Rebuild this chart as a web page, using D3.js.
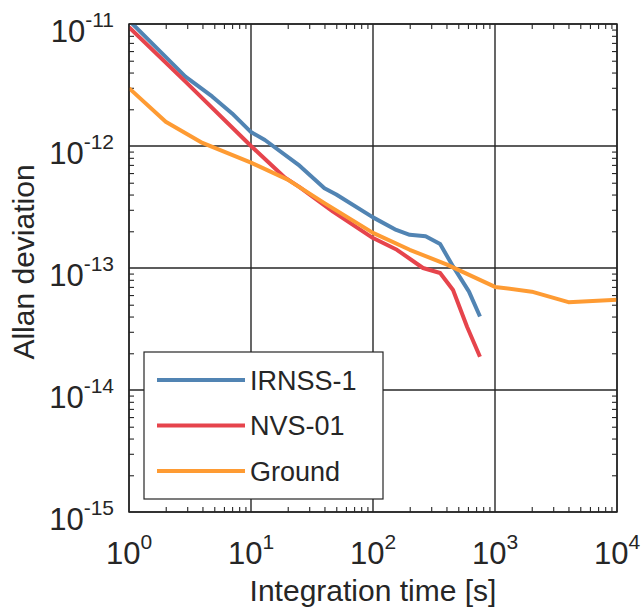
<!DOCTYPE html>
<html>
<head>
<meta charset="utf-8">
<script src="https://cdn.jsdelivr.net/npm/d3@7"></script>
<style>
    body { margin: 0; background: #fff; }
    text { font-family: "Liberation Sans", Arial, sans-serif; fill: #262626; }
</style>
</head>
<body>
<script>
// series (tau in s, Allan deviation)
const irnssTau = [1, 2.9, 4.8, 7, 10, 13, 25, 40, 50, 100, 155, 200, 270, 355, 453, 612, 753];
const irnssDev = [1.07e-11, 3.7e-12, 2.55e-12, 1.85e-12, 1.3e-12, 1.12e-12, 6.9e-13, 4.5e-13, 4.0e-13,
    2.6e-13, 2.05e-13, 1.87e-13, 1.82e-13, 1.57e-13, 1.03e-13, 6.4e-14, 4.0e-14];

const nvsTau = [1, 2.9, 10, 19, 25, 47, 100, 157, 257, 355, 453, 590, 753];
const nvsDev = [9.4e-12, 3.37e-12, 1.0e-12, 5.5e-13, 4.6e-13, 2.9e-13, 1.76e-13, 1.41e-13, 1.0e-13,
    9.1e-14, 6.6e-14, 3.3e-14, 1.87e-14];

const groundTau = [1, 2, 4, 10, 20, 40, 100, 200, 400, 1000, 2000, 4000, 10000];
const groundDev = [2.98e-12, 1.58e-12, 1.06e-12, 7.3e-13, 5.3e-13, 3.4e-13, 1.94e-13, 1.41e-13, 1.07e-13,
    7.0e-14, 6.4e-14, 5.25e-14, 5.5e-14];

const seriesNames = ['IRNSS-1', 'NVS-01', 'Ground'];
const xTickExps = [0, 1, 2, 3, 4];
const yTickExps = [-11, -12, -13, -14, -15];

const colors = ['#5184b3', '#e6444c', '#fe9b33'];
const axisColor = '#262626';

const width = 642;
const height = 610;
const margin = { top: 24, right: 25, bottom: 98, left: 129 };
const plotW = width - margin.left - margin.right;
const plotH = height - margin.top - margin.bottom;

const series = [
    d3.zip(irnssTau, irnssDev),
    d3.zip(nvsTau, nvsDev),
    d3.zip(groundTau, groundDev)
];

const svg = d3.select('body').append('svg')
    .attr('width', width)
    .attr('height', height);

const g = svg.append('g')
    .attr('transform', `translate(${margin.left},${margin.top})`);

const x = d3.scaleLog()
    .domain([1, 1e4])
    .range([0, plotW]);
const y = d3.scaleLog()
    .domain([1e-15, 1e-11])
    .range([plotH, 0]);

const minorOf = exps => d3.merge(exps.slice(0, -1).map(e => d3.range(2, 10).map(k => k * Math.pow(10, e))));
const xMinor = minorOf(xTickExps);
const yMinor = minorOf(yTickExps.slice().reverse());
const xMajor = xTickExps.map(e => Math.pow(10, e));
const yMajor = yTickExps.map(e => Math.pow(10, e));

g.append('rect')
    .attr('width', plotW)
    .attr('height', plotH)
    .style('fill', '#fff');

// grid
g.selectAll('line.xgrid')
    .data(xMajor)
    .enter()
    .append('line')
    .attr('class', 'xgrid')
    .attr('x1', d => x(d))
    .attr('x2', d => x(d))
    .attr('y1', 0)
    .attr('y2', plotH)
    .style('stroke', axisColor)
    .style('stroke-width', 1.4);

g.selectAll('line.ygrid')
    .data(yMajor)
    .enter()
    .append('line')
    .attr('class', 'ygrid')
    .attr('x1', 0)
    .attr('x2', plotW)
    .attr('y1', d => y(d))
    .attr('y2', d => y(d))
    .style('stroke', axisColor)
    .style('stroke-width', 1.4);

// inward minor ticks on all four sides
const tickAxes = [
    [d3.axisBottom(x).tickValues(xMinor), `translate(0,${plotH})`],
    [d3.axisTop(x).tickValues(xMinor), 'translate(0,0)'],
    [d3.axisLeft(y).tickValues(yMinor), 'translate(0,0)'],
    [d3.axisRight(y).tickValues(yMinor), `translate(${plotW},0)`]
];
tickAxes.forEach(([axis, tr]) => {
    const a = g.append('g')
        .attr('transform', tr)
        .call(axis.tickSizeInner(-5).tickSizeOuter(0).tickFormat(''));
    a.select('.domain').remove();
    a.selectAll('line')
        .style('stroke', axisColor)
        .style('stroke-width', 1.1);
});

// lines
svg.append('clipPath')
    .attr('id', 'plot-clip')
    .append('rect')
    .attr('width', plotW)
    .attr('height', plotH);

const line = d3.line()
    .x(d => x(d[0]))
    .y(d => y(d[1]));

g.append('g')
    .attr('clip-path', 'url(#plot-clip)')
    .selectAll('path')
    .data(series)
    .enter()
    .append('path')
    .attr('d', line)
    .style('fill', 'none')
    .style('stroke', (d, i) => colors[i])
    .style('stroke-width', 4)
    .style('stroke-linejoin', 'round');

// box
g.append('rect')
    .attr('width', plotW)
    .attr('height', plotH)
    .style('fill', 'none')
    .style('stroke', axisColor)
    .style('stroke-width', 1.5);

// tick labels 10^n
const powLabel = (sel, e) => {
    sel.append('tspan').text('10');
    sel.append('tspan')
        .attr('dy', -15)
        .style('font-size', '21px')
        .text(e);
};

g.selectAll('text.xlab')
    .data(xTickExps)
    .enter()
    .append('text')
    .attr('class', 'xlab')
    .attr('x', d => x(Math.pow(10, d)))
    .attr('y', plotH + 52)
    .attr('text-anchor', 'middle')
    .style('font-size', '31px')
    .each(function (d) { powLabel(d3.select(this), d); });

g.selectAll('text.ylab')
    .data(yTickExps)
    .enter()
    .append('text')
    .attr('class', 'ylab')
    .attr('x', -15)
    .attr('y', d => y(Math.pow(10, d)) + 18)
    .attr('text-anchor', 'end')
    .style('font-size', '31px')
    .each(function (d) { powLabel(d3.select(this), d); });

// axis titles
svg.append('text')
    .attr('x', margin.left + plotW / 2)
    .attr('y', 601)
    .attr('text-anchor', 'middle')
    .style('font-size', '30px')
    .text('Integration time [s]');

svg.append('text')
    .attr('transform', `translate(34,${margin.top + plotH / 2 - 6}) rotate(-90)`)
    .attr('text-anchor', 'middle')
    .style('font-size', '30px')
    .text('Allan deviation');

// legend
const legend = svg.append('g')
    .attr('transform', 'translate(144,352)');

legend.append('rect')
    .attr('width', 239)
    .attr('height', 147)
    .style('fill', '#fff')
    .style('stroke', axisColor)
    .style('stroke-width', 1.2);

const rows = legend.selectAll('g.row')
    .data(seriesNames)
    .enter()
    .append('g')
    .attr('class', 'row')
    .attr('transform', (d, i) => `translate(0,${28 + i * 45.5})`);

rows.append('line')
    .attr('x1', 13)
    .attr('x2', 101)
    .style('stroke', (d, i) => colors[i])
    .style('stroke-width', 4);

rows.append('text')
    .attr('x', 106)
    .attr('dy', '0.36em')
    .style('font-size', '27px')
    .text(d => d);
</script>
</body>
</html>
